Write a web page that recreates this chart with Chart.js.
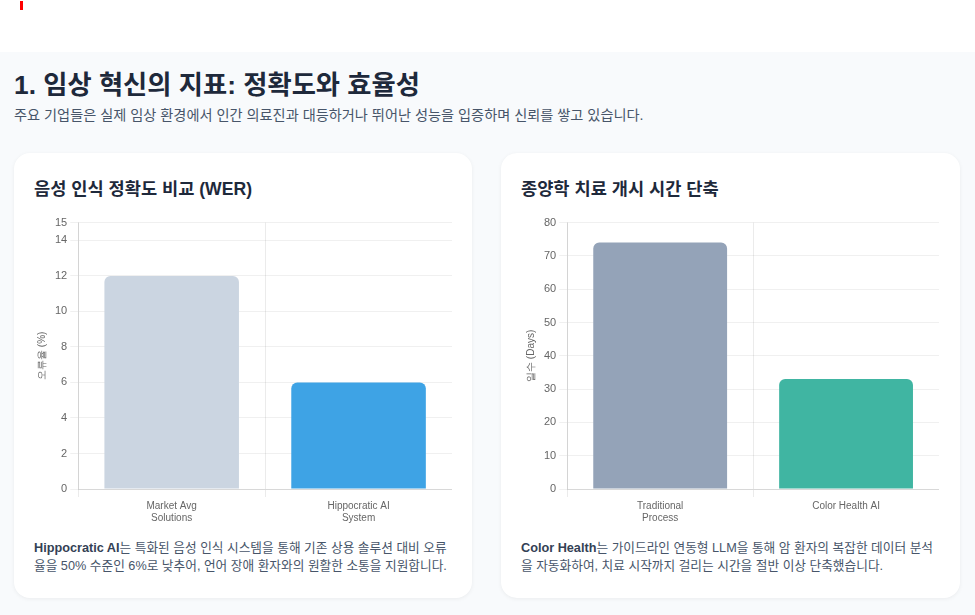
<!DOCTYPE html>
<html lang="ko">
<head>
<meta charset="utf-8">
<script src="https://cdn.jsdelivr.net/npm/chart.js@4.4.0/dist/chart.umd.min.js"></script>
<style>
  html, body { margin: 0; padding: 0; }
  body { width: 975px; height: 615px; overflow: hidden; background: #ffffff; font-family: "Liberation Sans", "Noto Sans CJK KR", sans-serif; }
  .mark { position: absolute; left: 20px; top: 1px; width: 3px; height: 9px; background: #ff0000; }
  .section { position: absolute; left: 0; top: 52px; width: 975px; height: 563px; background: #f8fafc; }
  h1 { position: absolute; left: 14px; top: 11px; margin: 0; font-size: 26.3px; font-weight: 700; color: #1e293b; }
  .sub { position: absolute; left: 14px; top: 52px; margin: 0; font-size: 14.2px; color: #475569; }
  .card { position: absolute; top: 101px; width: 458px; height: 445px; background: #fff; border-radius: 16px; box-shadow: 0 1px 4px rgba(0,0,0,0.06); }
  .card h2 { position: absolute; left: 20px; top: 22px; margin: 0; font-size: 17.6px; font-weight: 700; color: #1e293b; }
  .cw { position: absolute; left: 18px; top: 60px; width: 420px; height: 314px; }
  .desc { position: absolute; left: 20px; top: 386px; width: 416px; margin: 0; font-size: 12.7px; line-height: 18px; color: #475569; }
  .desc b { color: #334155; }
</style>
</head>
<body>
<div class="mark"></div>
<div class="section">
  <h1>1. 임상 혁신의 지표: 정확도와 효율성</h1>
  <p class="sub">주요 기업들은 실제 임상 환경에서 인간 의료진과 대등하거나 뛰어난 성능을 입증하며 신뢰를 쌓고 있습니다.</p>
  <div class="card" style="left:14px;">
    <h2>음성 인식 정확도 비교 (WER)</h2>
    <div class="cw"><canvas id="c1"></canvas></div>
    <p class="desc"><b>Hippocratic AI</b>는 특화된 음성 인식 시스템을 통해 기존 상용 솔루션 대비 오류율을 50% 수준인 6%로 낮추어, 언어 장애 환자와의 원활한 소통을 지원합니다.</p>
  </div>
  <div class="card" style="left:501px; width:459px;">
    <h2>종양학 치료 개시 시간 단축</h2>
    <div class="cw" style="left:20px; width:418px;"><canvas id="c2"></canvas></div>
    <p class="desc"><b>Color Health</b>는 가이드라인 연동형 LLM을 통해 암 환자의 복잡한 데이터 분석을 자동화하여, 치료 시작까지 걸리는 시간을 절반 이상 단축했습니다.</p>
  </div>
</div>
<script>
const werLabels = [["Market Avg", "Solutions"], ["Hippocratic AI", "System"]];
const werValues = [12, 6];
const werColors = ["#cbd5e1", "#3ea3e5"];
const werAxisTitle = "오류율 (%)";

const daysLabels = [["Traditional", "Process"], "Color Health AI"];
const daysValues = [74, 33];
const daysColors = ["#94a3b8", "#40b5a2"];
const daysAxisTitle = "일수 (Days)";

Chart.defaults.font.family = "'Liberation Sans', Arial, sans-serif";
Chart.defaults.font.size = 11;
Chart.defaults.color = "#666";

function makeChart(id, labels, values, colors, title, max, step) {
  new Chart(document.getElementById(id), {
    type: "bar",
    data: { labels: labels, datasets: [{ data: values, backgroundColor: colors, borderRadius: 6, borderSkipped: "bottom" }] },
    options: {
      responsive: true, maintainAspectRatio: false, animation: false,
      plugins: { legend: { display: false }, tooltip: { enabled: false } },
      layout: { padding: { top: 6, right: 0 } },
      scales: {
        x: { grid: { color: "rgba(0,0,0,0.08)" }, ticks: { font: { size: 10 } } },
        y: { beginAtZero: true, max: max, ticks: { stepSize: step, font: { size: 11 } },
             grid: { color: "rgba(0,0,0,0.06)" },
             title: { display: true, text: title, font: { size: 10 } } }
      }
    }
  });
}
makeChart("c1", werLabels, werValues, werColors, werAxisTitle, 15, 2);
makeChart("c2", daysLabels, daysValues, daysColors, daysAxisTitle, 80, 10);
</script>
</body>
</html>
